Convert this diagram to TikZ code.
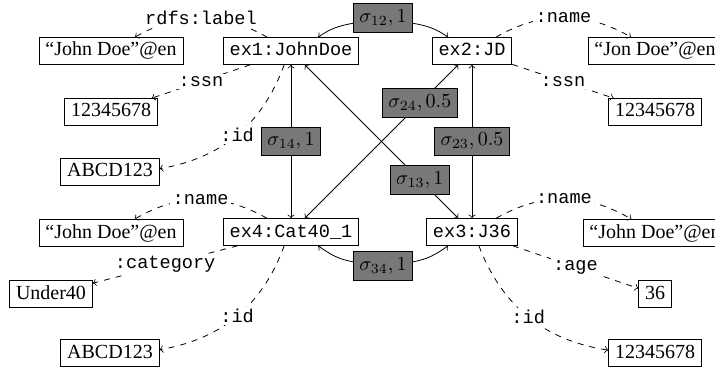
\documentclass[tikz,border=0pt]{standalone}
\usepackage[no-math]{fontspec}
\setmainfont{Liberation Serif}
\setmonofont{Liberation Mono}[Scale=0.93]
\begin{document}
\begin{tikzpicture}[x=0.5pt,y=-0.5pt,
  lit/.style={draw, inner xsep=3.2pt, inner ysep=2.2pt, text height=7pt, text depth=2pt},
  res/.style={draw, font=\ttfamily, inner xsep=3.2pt, inner ysep=2.2pt, text height=7pt, text depth=2pt},
  sig/.style={draw, fill=black!53, inner sep=3pt},
  prop/.style={font=\ttfamily, fill=white, inner sep=1.2pt},
  dedge/.style={->, dashed},
  sedge/.style={->}]
\useasboundingbox (0,0) rectangle (715,368);

% literal nodes
\node[lit] (l1) at (111,51) {“John Doe”@en};
\node[lit] (l2) at (111,112) {12345678};
\node[lit] (l3) at (110,172) {ABCD123};
\node[lit] (l4) at (111,233) {“John Doe”@en};
\node[lit] (l5) at (51,294) {Under40};
\node[lit] (l6) at (110,353) {ABCD123};
\node[lit] (r1) at (655,51) {“Jon Doe”@en};
\node[lit] (r2) at (655,112) {12345678};
\node[lit] (r3) at (655,233) {“John Doe”@en};
\node[lit] (r4) at (655,294) {36};
\node[lit] (r5) at (655,353) {12345678};

% resources
\node[res] (e1) at (291,51) {ex1:JohnDoe};
\node[res] (e2) at (472,51) {ex2:JD};
\node[res] (e4) at (291,232) {ex4:Cat40\_1};
\node[res] (e3) at (472,232) {ex3:J36};

% property edges
\draw[dedge] (e1) to[bend right=30] node[prop]{rdfs:label} (l1);
\draw[dedge] (e1) -- node[prop]{:ssn} (l2);
\draw[dedge] (e1) to[bend left=30] node[prop]{:id} (l3);
\draw[dedge] (e4) to[bend right=30] node[prop]{:name} (l4);
\draw[dedge] (e4) -- node[prop]{:category} (l5);
\draw[dedge] (e4) to[bend left=30] node[prop]{:id} (l6);
\draw[dedge] (e2) to[bend left=30] node[prop]{:name} (r1);
\draw[dedge] (e2) -- node[prop]{:ssn} (r2);
\draw[dedge] (e3) to[bend left=30] node[prop]{:name} (r3);
\draw[dedge] (e3) -- node[prop]{:age} (r4);
\draw[dedge] (e3) to[bend right=30] node[prop]{:id} (r5);

% similarity edges
\draw[<->] (e1) -- node[sig]{$\sigma_{14},1$} (e4);
\draw[<->] (e2) -- node[sig]{$\sigma_{23},0.5$} (e3);
\draw[<->] (e1) -- node[sig, pos=0.75]{$\sigma_{13},1$} (e3);
\draw[<->] (e4) -- node[sig, pos=0.75]{$\sigma_{24},0.5$} (e2);

\node[sig] (s12) at (383,18) {$\sigma_{12},1$};
\node[sig] (s34) at (383,266) {$\sigma_{34},1$};
\draw[sedge] (s12.190) to[out=190,in=35] (e1.27);
\draw[sedge] (s12.-10) to[out=-10,in=145] (e2.150);
\draw[sedge] (s34.172) to[out=170,in=-35] (e4.-27);
\draw[sedge] (s34.8) to[out=10,in=-145] (e3.-150);
\end{tikzpicture}
\end{document}
